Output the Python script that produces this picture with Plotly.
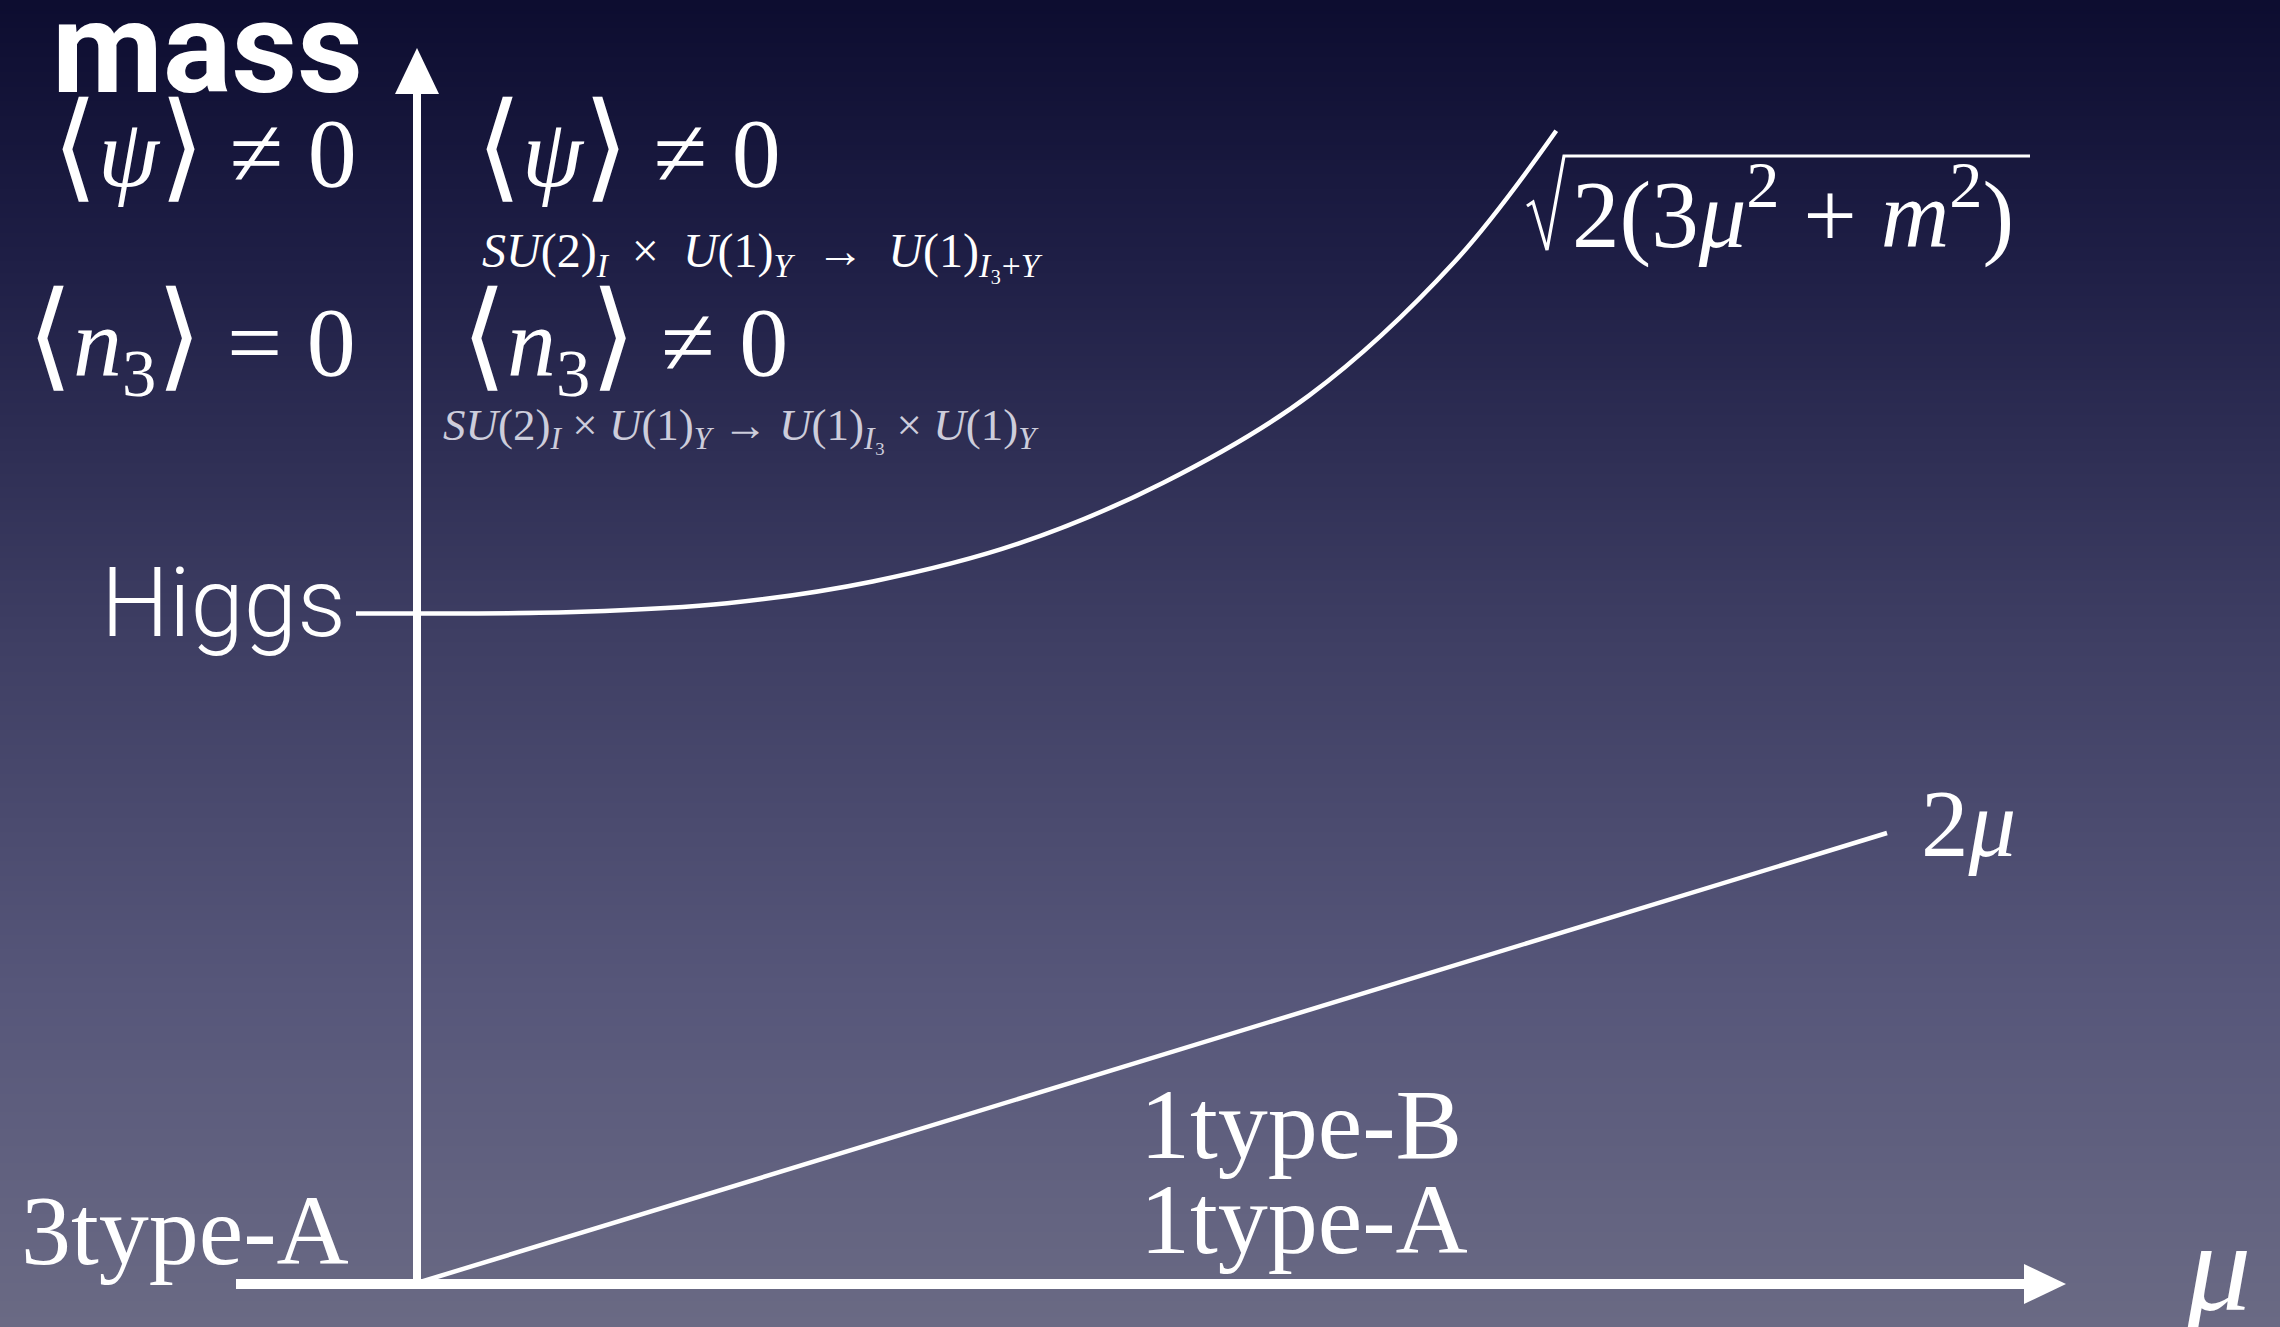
import numpy as np
import plotly.graph_objects as go

W, H = 2280, 1327

# ---- data -------------------------------------------------------------
# Higgs branch (mass vs chemical potential), schematic values
mu_higgs = [0.000, 0.112, 0.211, 0.310, 0.409, 0.508, 0.607, 0.706, 0.775]
mass_higgs = [2.976, 2.983, 3.021, 3.118, 3.286, 3.558, 3.945, 4.540, 5.121]

# gapped mode: mass = 2 mu
mu_gap = [0.0, 1.0]
mass_gap = [0.0, 2.0]

# ---- frame ------------------------------------------------------------
# pixel position of the origin and pixels per unit on each axis
X0, Y0 = 417, 1283
SX, SY = 1470, 225
x_range = [-X0 / SX, (W - X0) / SX]
y_range = [-(H - Y0) / SY, Y0 / SY]


def px(x):
    return x / W


def py(y):
    return 1 - y / H


fig = go.Figure()

# background gradient
grad_y = np.linspace(y_range[0] - 0.3, y_range[1] + 0.3, 80)
grad_z = [[v, v] for v in grad_y]
fig.add_trace(go.Heatmap(
    x=[x_range[0] - 0.5, x_range[1] + 0.5], y=grad_y, z=grad_z,
    zsmooth="best", showscale=False, hoverinfo="skip",
    colorscale=[[0.0, "#6e6e86"], [0.27, "#57577a"], [0.52, "#3e3e63"],
                [0.78, "#1e1e45"], [1.0, "#08082a"]],
))

line_style = dict(color="white", width=4.5)
fig.add_trace(go.Scatter(x=mu_higgs, y=mass_higgs, mode="lines",
                         line=dict(shape="spline", smoothing=1.0, **line_style),
                         hoverinfo="skip", showlegend=False))
fig.add_trace(go.Scatter(x=mu_gap, y=mass_gap, mode="lines",
                         line=line_style, hoverinfo="skip", showlegend=False))

shapes = []
# horizontal axis with arrow head
shapes.append(dict(type="rect", xref="paper", yref="paper",
                   x0=px(236), x1=px(2028), y0=py(1289), y1=py(1279),
                   fillcolor="white", line_width=0))
shapes.append(dict(type="path", xref="paper", yref="paper",
                   path=f"M {px(2024)},{py(1264)} L {px(2066)},{py(1284)} L {px(2024)},{py(1304)} Z",
                   fillcolor="white", line_width=0))
# vertical axis with arrow head
shapes.append(dict(type="rect", xref="paper", yref="paper",
                   x0=px(413), x1=px(421), y0=py(1284), y1=py(90),
                   fillcolor="white", line_width=0))
shapes.append(dict(type="path", xref="paper", yref="paper",
                   path=f"M {px(395)},{py(94)} L {px(417)},{py(48)} L {px(439)},{py(94)} Z",
                   fillcolor="white", line_width=0))
# Higgs tick on the mass axis
shapes.append(dict(type="line", xref="x", yref="y",
                   x0=-61 / SX, x1=0, y0=mass_higgs[0], y1=mass_higgs[0],
                   line=dict(color="white", width=4.5)))
# radical sign over the Higgs mass formula
shapes.append(dict(type="path", xref="paper", yref="paper",
                   path=(f"M {px(1527)},{py(206)} L {px(1533)},{py(202)} "
                         f"L {px(1547)},{py(250)} L {px(1564)},{py(156)} "
                         f"L {px(2030)},{py(156)}"),
                   line=dict(color="white", width=3.2)))

SERIF = "Liberation Serif, DejaVu Serif, serif"
SANS = "Roboto, Liberation Sans, sans-serif"
WHITE = "white"
SP = "\u2002"  # wider gap around binary operators


def note(text, x, y, size, family=SERIF, xanchor="center", color=WHITE, weight=None):
    font = dict(family=family, size=size, color=color)
    if weight is not None:
        font["weight"] = weight
    return dict(text=text, x=px(x), y=py(y), xref="paper", yref="paper",
                xanchor=xanchor, yanchor="middle", showarrow=False, font=font)


def bra(inner, rest):
    big = '<span style="font-size:118px">'
    return f"{big}⟨</span>{inner}{big}⟩</span> {rest}"


annotations = [
    note("mass", 207, 48, 128, family=SANS, weight="bold"),
    note(bra("<i>ψ</i>", "≠ 0"), 204, 146, 98),
    note(bra("<i>ψ</i>", "≠ 0"), 628, 146, 98),
    note(f"<i>SU</i>(2)<sub><i>I</i></sub>{SP}×{SP}<i>U</i>(1)<sub><i>Y</i></sub>{SP}→{SP}"
         f"<i>U</i>(1)<sub><i>I</i>₃+<i>Y</i></sub>", 480, 254, 48, xanchor="left"),
    note(bra("<i>n</i><sub>3</sub>", "= 0"), 191, 340, 98),
    note(bra("<i>n</i><sub>3</sub>", "≠ 0"), 624, 340, 98),
    note("<i>SU</i>(2)<sub><i>I</i></sub> × <i>U</i>(1)<sub><i>Y</i></sub> → "
         "<i>U</i>(1)<sub><i>I</i>₃</sub> × <i>U</i>(1)<sub><i>Y</i></sub>",
         441, 428, 45, xanchor="left", color="rgba(235,235,245,0.85)"),
    note("Higgs", 348, 603, 96, family=SANS, xanchor="right", weight=300),
    note("2(3<i>μ</i><sup>2</sup> + <i>m</i><sup>2</sup>)", 1570, 208, 95, xanchor="left"),
    note("2<i>μ</i>", 1919, 824, 95, xanchor="left"),
    note("1type-B", 1301, 1124, 100),
    note("1type-A", 1304, 1219, 100),
    note("3type-A", 185, 1230, 100),
    note("<i>μ</i>", 2218, 1266, 130),
]

fig.update_layout(
    width=W, height=H,
    margin=dict(l=0, r=0, t=0, b=0),
    paper_bgcolor="#2a2a50", plot_bgcolor="#2a2a50",
    xaxis=dict(range=x_range, visible=False, fixedrange=True),
    yaxis=dict(range=y_range, visible=False, fixedrange=True),
    shapes=shapes, annotations=annotations,
    showlegend=False,
)

fig.write_html("out.html")
